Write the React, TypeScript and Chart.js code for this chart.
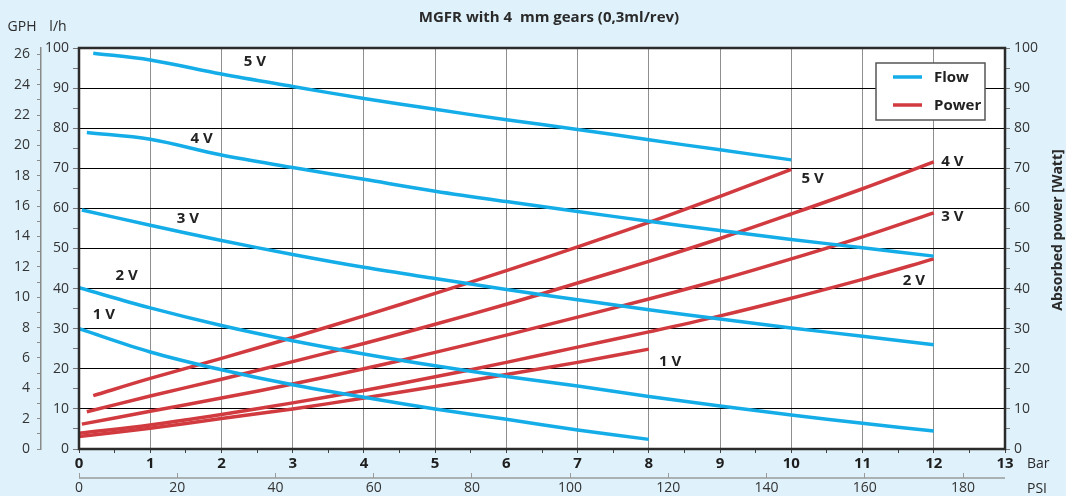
import { useEffect, useRef } from 'react';
import { Chart, registerables } from 'chart.js';
Chart.register(...registerables);

// ---- data (pressure in bar, flow in l/h, power in W) ----
const flow1Bar = [0, 1, 2, 3, 4, 5, 6, 7, 8];
const flow1 = [30, 24.2, 19.75, 16, 12.9, 10, 7.4, 4.75, 2.4];
const flow2Bar = [0, 1, 2, 3, 4, 5, 6, 7, 8, 9, 10, 11, 12];
const flow2 = [40.2, 35.2, 30.8, 27, 23.7, 20.75, 18.1, 15.7, 13.1, 10.75, 8.5, 6.4, 4.5];
const flow3Bar = [0.04, 1, 2, 3, 4, 5, 6, 7, 8, 9, 10, 11, 12];
const flow3 = [59.6, 55.8, 52, 48.5, 45.3, 42.5, 39.8, 37.2, 34.75, 32.4, 30.2, 28.1, 26];
const flow4Bar = [0.11, 1, 2, 3, 4, 5, 6, 7, 8, 9, 10, 11, 12];
const flow4 = [78.9, 77.25, 73.3, 70.2, 67.25, 64.3, 61.7, 59.25, 56.8, 54.5, 52.25, 50.2, 48.1];
const flow5Bar = [0.2, 1, 2, 3, 4, 5, 6, 7, 8, 9, 10];
const flow5 = [98.7, 97, 93.5, 90.4, 87.4, 84.7, 82.1, 79.7, 77.1, 74.6, 72.1];

const power1Bar = [0, 1, 2, 3, 4, 5, 6, 7, 8];
const power1 = [3.1, 5.2, 7.6, 10, 12.7, 15.6, 18.6, 21.6, 24.9];
const power2Bar = [0, 1, 2, 3, 4, 5, 6, 7, 8, 9, 10, 11, 12];
const power2 = [3.9, 6, 8.6, 11.5, 14.6, 18, 21.6, 25.4, 29.2, 33.2, 37.6, 42.3, 47.4];
const power3Bar = [0.04, 1, 2, 3, 4, 5, 6, 7, 8, 9, 10, 11, 12];
const power3 = [6.2, 9.4, 12.7, 16.2, 20, 24.1, 28.4, 32.9, 37.4, 42.2, 47.4, 52.9, 58.9];
const power4Bar = [0.11, 1, 2, 3, 4, 5, 6, 7, 8, 9, 10, 11, 12];
const power4 = [9.3, 13.2, 17.4, 21.8, 26.3, 31.1, 36.1, 41.4, 46.8, 52.5, 58.6, 64.9, 71.6];
const power5Bar = [0.2, 1, 2, 3, 4, 5, 6, 7, 8, 9, 10];
const power5 = [13.3, 17.6, 22.6, 27.8, 33.2, 38.8, 44.5, 50.4, 56.5, 63, 69.75];

const voltLabels = ['1 V', '2 V', '3 V', '4 V', '5 V'];
const flowLabelBar = [0.35, 0.67, 1.53, 1.72, 2.47];
const flowLabelLh = [33.5, 43.25, 57.5, 77.25, 96.5];
const powerLabelBar = [8.3, 11.72, 12.26, 12.26, 10.3];
const powerLabelW = [21.75, 42, 58, 71.75, 67.5];

const TITLE = 'MGFR with 4  mm gears (0,3ml/rev)';
const PSI_PER_BAR = 14.5038;
const LITERS_PER_GALLON = 3.785;
const BAR_MAX = 13;
const LH_MAX = 100;

const FLOW_COLOR = '#14ade8';
const POWER_COLOR = '#d13a3f';
const BG = '#dff1fa';
const FONT = "'Open Sans', 'Noto Sans', sans-serif";

const flowSeries = [
  [flow1Bar, flow1], [flow2Bar, flow2], [flow3Bar, flow3], [flow4Bar, flow4], [flow5Bar, flow5],
];
const powerSeries = [
  [power1Bar, power1], [power2Bar, power2], [power3Bar, power3], [power4Bar, power4], [power5Bar, power5],
];

export default function App() {
  const ref = useRef<HTMLCanvasElement | null>(null);

  useEffect(() => {
    document.body.style.margin = '0';
    const canvas = ref.current;
    if (!canvas) return;

    const mk = (series: number[][][], color: string, axis: string, name: string) =>
      series.map(([xs, ys], i) => ({
        label: `${name} ${voltLabels[i]}`,
        data: xs.map((x, j) => ({ x, y: ys[j] })),
        borderColor: color,
        backgroundColor: color,
        borderWidth: 3.5,
        pointRadius: 0,
        fill: false,
        tension: 0.35,
        xAxisID: 'x',
        yAxisID: axis,
      }));

    const deco = {
      id: 'deco',
      beforeDraw(chart: any) {
        const { ctx, chartArea: a, width, height } = chart;
        ctx.save();
        ctx.fillStyle = BG;
        ctx.fillRect(0, 0, width, height);
        ctx.fillStyle = '#ffffff';
        ctx.fillRect(a.left, a.top, a.right - a.left, a.bottom - a.top);
        ctx.restore();
      },
      afterDraw(chart: any) {
        const { ctx, chartArea: a, scales } = chart;
        ctx.save();
        // plot frame
        ctx.strokeStyle = '#2b2b2b';
        ctx.lineWidth = 2.5;
        ctx.strokeRect(a.left, a.top, a.right - a.left, a.bottom - a.top);

        // PSI axis line
        const psi = scales.x2;
        const ly = psi.top + 5;
        ctx.strokeStyle = '#9a9a9a';
        ctx.lineWidth = 1.5;
        ctx.beginPath();
        ctx.moveTo(psi.left, ly);
        ctx.lineTo(psi.right, ly);
        ctx.stroke();

        // texts
        ctx.fillStyle = '#2a2a2a';
        ctx.textAlign = 'center';
        ctx.textBaseline = 'middle';
        ctx.font = `bold 15px ${FONT}`;
        ctx.fillText(TITLE, 549, 18);

        ctx.font = `14px ${FONT}`;
        ctx.fillText('GPH', 22, 27);
        ctx.fillText('l/h', 58, 27);
        ctx.textAlign = 'left';
        ctx.fillText('Bar', a.right + 22, scales.x.top + 15);
        ctx.fillText('PSI', a.right + 22, psi.top + 16);

        ctx.save();
        ctx.translate(1058, 230);
        ctx.rotate(-Math.PI / 2);
        ctx.textAlign = 'center';
        ctx.font = `bold 14px ${FONT}`;
        ctx.fillText('Absorbed power [Watt]', 0, 0);
        ctx.restore();

        // curve labels
        ctx.textAlign = 'center';
        ctx.font = `bold 15px ${FONT}`;
        ctx.fillStyle = '#222';
        voltLabels.forEach((t, i) => {
          ctx.fillText(t, scales.x.getPixelForValue(flowLabelBar[i]), scales.y.getPixelForValue(flowLabelLh[i]));
          ctx.fillText(t, scales.x.getPixelForValue(powerLabelBar[i]), scales.y2.getPixelForValue(powerLabelW[i]));
        });

        // legend
        const bx = a.right - 129, by = a.top + 15, bw = 109, bh = 57;
        ctx.fillStyle = '#ffffff';
        ctx.fillRect(bx, by, bw, bh);
        ctx.strokeStyle = '#555';
        ctx.lineWidth = 1.5;
        ctx.strokeRect(bx, by, bw, bh);
        const items = [['Flow', FLOW_COLOR], ['Power', POWER_COLOR]];
        items.forEach(([t, c], i) => {
          const yy = by + 14 + i * 28;
          ctx.strokeStyle = c;
          ctx.lineWidth = 3.5;
          ctx.beginPath();
          ctx.moveTo(bx + 17, yy);
          ctx.lineTo(bx + 46, yy);
          ctx.stroke();
          ctx.fillStyle = '#222';
          ctx.textAlign = 'left';
          ctx.font = `bold 15px ${FONT}`;
          ctx.fillText(t, bx + 58, yy + 1);
        });
        ctx.restore();
      },
    };

    const tickFont = { family: FONT, size: 14 };

    const chart = new Chart(canvas, {
      type: 'line',
      data: {
        datasets: [
          ...mk(flowSeries, FLOW_COLOR, 'y', 'Flow'),
          ...mk(powerSeries, POWER_COLOR, 'y2', 'Power'),
        ],
      },
      options: {
        animation: false,
        responsive: true,
        maintainAspectRatio: false,
        layout: { padding: { top: 48, left: 0, right: 21, bottom: 0 } },
        plugins: { legend: { display: false }, tooltip: { enabled: false }, title: { display: false } },
        scales: {
          x: {
            type: 'linear',
            position: 'bottom',
            weight: 0,
            min: 0,
            max: BAR_MAX,
            afterFit: (s: any) => { s.height = 24; },
            border: { display: false },
            grid: {
              color: (c: any) => (Number.isInteger(c.tick?.value) ? '#8f8f8f' : 'rgba(0,0,0,0)'),
              tickColor: '#444',
              tickLength: 4,
              lineWidth: 1,
            },
            ticks: {
              stepSize: 0.5,
              autoSkip: false,
              maxRotation: 0,
              padding: 2,
              color: '#1e1e1e',
              font: { family: FONT, size: 15, weight: 'bold' },
              callback: (v: any) => (Number.isInteger(v) ? String(v) : ''),
            },
          },
          x2: {
            type: 'linear',
            position: 'bottom',
            weight: 1,
            min: 0,
            max: BAR_MAX * PSI_PER_BAR,
            afterFit: (s: any) => { s.height = 23; },
            border: { display: false },
            grid: { drawOnChartArea: false, tickColor: '#9a9a9a', tickLength: 5 },
            ticks: {
              stepSize: 20,
              includeBounds: false,
              autoSkip: false,
              maxRotation: 0,
              padding: 2,
              color: '#333',
              font: tickFont,
            },
          },
          y: {
            type: 'linear',
            position: 'left',
            weight: 0,
            min: 0,
            max: LH_MAX,
            afterFit: (s: any) => { s.width = 38; },
            border: { display: false },
            grid: {
              color: (c: any) => (c.tick?.value % 10 === 0 ? '#000000' : 'rgba(0,0,0,0)'),
              tickColor: '#777',
              tickLength: 6,
              lineWidth: 1,
            },
            ticks: {
              stepSize: 5,
              autoSkip: false,
              padding: 4,
              color: '#333',
              font: tickFont,
              callback: (v: any) => (v % 10 === 0 ? String(v) : ''),
            },
          },
          gph: {
            type: 'linear',
            position: 'left',
            weight: 1,
            min: 0,
            max: LH_MAX / LITERS_PER_GALLON,
            afterFit: (s: any) => { s.width = 41; },
            border: { display: true, color: '#8a8a8a', width: 1.5 },
            grid: { drawOnChartArea: false, tickColor: '#8a8a8a', tickLength: 4 },
            ticks: {
              stepSize: 1,
              includeBounds: false,
              autoSkip: false,
              padding: 7,
              color: '#333',
              font: tickFont,
              callback: (v: any) => (v % 2 === 0 ? String(v) : ''),
            },
          },
          y2: {
            type: 'linear',
            position: 'right',
            min: 0,
            max: LH_MAX,
            afterFit: (s: any) => { s.width = 40; },
            border: { display: false },
            grid: { drawOnChartArea: false, tickColor: '#777', tickLength: 5 },
            ticks: {
              stepSize: 5,
              autoSkip: false,
              padding: 4,
              color: '#333',
              font: tickFont,
              callback: (v: any) => (v % 10 === 0 ? String(v) : ''),
            },
          },
        },
      } as any,
      plugins: [deco],
    });

    return () => chart.destroy();
  }, []);

  return (
    <div style={{ position: 'fixed', left: 0, top: 0, width: 1066, height: 496 }}>
      <canvas ref={ref} />
    </div>
  );
}
